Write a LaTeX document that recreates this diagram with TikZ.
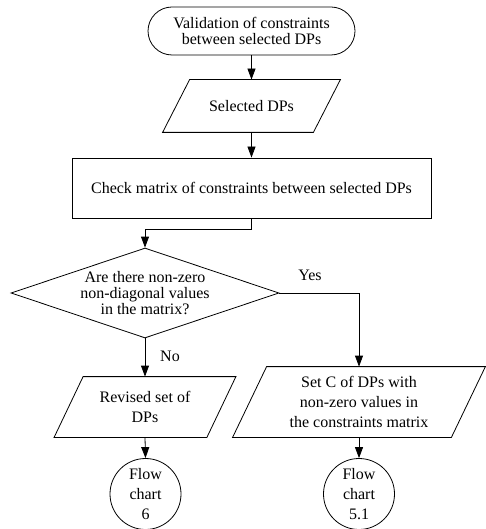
\documentclass[tikz,border=0pt]{standalone}
\usepackage{fontspec}
\setmainfont{Liberation Serif}
\usetikzlibrary{arrows.meta,shapes.geometric}
\tikzset{
  base/.style={draw=black, line width=0.8pt, align=center, inner sep=0pt,
    font=\fontsize{16}{20}\selectfont},
  tight/.style={font=\fontsize{16}{16}\selectfont},
  term/.style={base, tight, rectangle, rounded corners=24pt, minimum width=207pt, minimum height=48pt},
  procbox/.style={base, rectangle, minimum width=359pt, minimum height=60pt},
  decbox/.style={base, tight, diamond, aspect=3, minimum width=268pt, minimum height=90pt},
  iobox/.style={base, draw=none, rectangle},
  conn/.style={base, circle, minimum size=71pt},
  lab/.style={font=\fontsize{16}{20}\selectfont, inner sep=0pt},
  arr/.style={line width=0.8pt, -{Triangle[length=11pt,width=8pt]}},
  ln/.style={line width=0.8pt}
}
% parallelogram outline around a node: #1 node, #2 half slant
\newcommand{\paraoutline}[2]{%
  \draw[ln] ([xshift=#2]#1.north west) -- ([xshift=#2]#1.north east)
    -- ([xshift=-#2]#1.south east) -- ([xshift=-#2]#1.south west) -- cycle;}
\begin{document}
\begin{tikzpicture}[x=1pt,y=-1pt]
\useasboundingbox (0,0) rectangle (485,529);

\node[term] (start) at (251.5,31) {Validation of constraints\\between selected DPs};
\node[iobox, minimum width=150pt, minimum height=52pt] (sel) at (251.5,106) {Selected DPs};
\paraoutline{sel}{13.5pt}
\node[procbox] (check) at (251.5,188) {Check matrix of constraints between selected DPs};
\node[decbox] (dec) at (145,293) {Are there non-zero\\non-diagonal values\\in the matrix?};
\node[iobox, minimum width=152pt, minimum height=60pt] (rev) at (145,407) {Revised set of\\DPs};
\paraoutline{rev}{14.5pt}
\node[iobox, minimum width=218pt, minimum height=70pt] (setc) at (359,402) {Set C of DPs with\\non-zero values in\\the constraints matrix};
\paraoutline{setc}{17pt}
\node[conn] (c6) at (145.5,494) {Flow\\chart\\6};
\node[conn] (c51) at (359,494) {Flow\\chart\\5.1};

\node[lab] (yes) at (310,275) {Yes};
\node[lab] (no) at (170,356) {No};

\draw[arr] (start.south) -- (sel.north);
\draw[arr] (sel.south) -- (check.north);
\draw[arr] (check.south) -- ++(0,11) -| (dec.north);
\draw[arr] (dec.east) -| (setc.north);
\draw[arr] (dec.south) -- (rev.north);
\draw[arr] (rev.south) -- (c6.north);
\draw[arr] (setc.south) -- (c51.north);
\end{tikzpicture}
\end{document}
